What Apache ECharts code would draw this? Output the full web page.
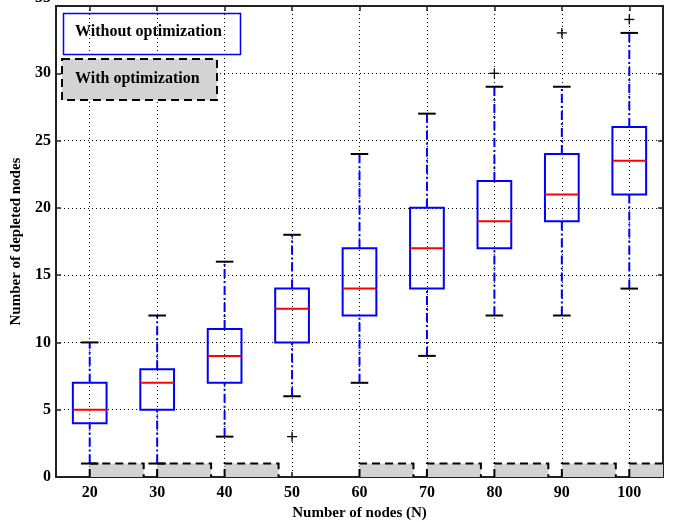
<!DOCTYPE html>
<html>
<head>
<meta charset="utf-8">
<script src="https://cdn.jsdelivr.net/npm/echarts@6/dist/echarts.min.js"></script>
<style>
  html, body { margin: 0; padding: 0; background: #fff; }
  #chart { width: 678px; height: 522px; }
</style>
</head>
<body>
<div id="chart"></div>
<script>
// node counts on the x axis
const nodeCounts = [20, 30, 40, 50, 60, 70, 80, 90, 100];
// "Without optimization" box plot stats
const whiskerLow = [1, 1, 3, 6, 7, 9, 12, 12, 14];
const q1 = [4, 5, 7, 10, 12, 14, 17, 19, 21];
const medians = [5, 7, 9, 12.5, 14, 17, 19, 21, 23.5];
const q3 = [7, 8, 11, 14, 17, 20, 22, 24, 26];
const whiskerHigh = [10, 12, 16, 18, 24, 27, 29, 29, 33];
const outliers = [[50, 3], [80, 30], [90, 33], [100, 34]];
// "With optimization" depleted nodes
const optimizedDepleted = [1, 1, 1, 0, 1, 1, 1, 1, 1];
const xTicks = [20, 30, 40, 50, 60, 70, 80, 90, 100];

const FONT = '"Liberation Serif", "Times New Roman", serif';
const BLUE = '#0000ff';

const boxData = nodeCounts.map((n, i) => [n, whiskerLow[i], q1[i], medians[i], q3[i], whiskerHigh[i]]);
const optData = nodeCounts.map((n, i) => [n, optimizedDepleted[i]]);

function renderBox(params, api) {
  const x = api.value(0);
  const pLow = api.coord([x, api.value(1)]);
  const pQ1 = api.coord([x, api.value(2)]);
  const pMed = api.coord([x, api.value(3)]);
  const pQ3 = api.coord([x, api.value(4)]);
  const pHigh = api.coord([x, api.value(5)]);
  const left = api.coord([x - 2.5, 0])[0];
  const right = api.coord([x + 2.5, 0])[0];
  const capL = api.coord([x - 1.3, 0])[0];
  const capR = api.coord([x + 1.3, 0])[0];
  const cx = pMed[0];
  const whiskerStyle = {stroke: BLUE, lineWidth: 2, lineDash: [9, 3, 2, 3], fill: null};
  const capStyle = {stroke: '#000', lineWidth: 2};
  return {
    type: 'group',
    children: [
      {type: 'line', shape: {x1: cx, y1: pQ3[1], x2: cx, y2: pHigh[1]}, style: whiskerStyle},
      {type: 'line', shape: {x1: cx, y1: pLow[1], x2: cx, y2: pQ1[1]}, style: whiskerStyle},
      {type: 'rect', shape: {x: left, y: pQ3[1], width: right - left, height: pQ1[1] - pQ3[1]},
        style: {stroke: BLUE, lineWidth: 2, fill: null}},
      {type: 'line', shape: {x1: left, y1: pMed[1], x2: right, y2: pMed[1]}, style: {stroke: '#ff0000', lineWidth: 2}},
      {type: 'line', shape: {x1: capL, y1: pHigh[1], x2: capR, y2: pHigh[1]}, style: capStyle},
      {type: 'line', shape: {x1: capL, y1: pLow[1], x2: capR, y2: pLow[1]}, style: capStyle}
    ]
  };
}

function renderOutlier(params, api) {
  const p = api.coord([api.value(0), api.value(1)]);
  const s = 5;
  return {
    type: 'group',
    children: [
      {type: 'line', shape: {x1: p[0] - s, y1: p[1], x2: p[0] + s, y2: p[1]}, style: {stroke: '#000', lineWidth: 1.3}},
      {type: 'line', shape: {x1: p[0], y1: p[1] - s, x2: p[0], y2: p[1] + s}, style: {stroke: '#000', lineWidth: 1.3}}
    ]
  };
}

function renderOpt(params, api) {
  const v = api.value(1);
  if (!v) return null;
  const x = api.value(0);
  const p0 = api.coord([x, 0]);
  const p1 = api.coord([x + 8, v]);
  return {
    type: 'group',
    children: [
      {
        type: 'rect',
        shape: {x: p0[0], y: p1[1], width: p1[0] - p0[0], height: p0[1] - p1[1]},
        style: {fill: 'rgb(211,211,211)', stroke: null}
      },
      {
        type: 'polyline',
        shape: {points: [[p0[0], p0[1]], [p0[0], p1[1]], [p1[0], p1[1]], [p1[0], p0[1]]]},
        style: {fill: null, stroke: '#000', lineWidth: 2, lineDash: [8, 5]}
      }
    ]
  };
}

const chart = echarts.init(document.getElementById('chart'), null, {renderer: 'canvas'});

const gridDot = {show: true, lineStyle: {color: '#000', type: [1, 3], width: 1}};
const axisFrame = {show: true, onZero: false, lineStyle: {color: '#222', width: 2}};

chart.setOption({
  animation: false,
  backgroundColor: '#fff',
  grid: {left: 56, right: 15, top: 6, bottom: 45, outerBoundsMode: 'none', containLabel: false},
  xAxis: [
    {
      type: 'value', min: 15, max: 105,
      axisLine: axisFrame,
      axisTick: {inside: true, length: 5, customValues: xTicks, lineStyle: {color: '#222', width: 1.5}},
      axisLabel: {customValues: xTicks, color: '#000', fontFamily: FONT, fontWeight: 'bold', fontSize: 16, margin: 8},
      splitLine: gridDot,
      name: 'Number of nodes (N)', nameLocation: 'middle', nameGap: 24,
      nameTextStyle: {color: '#000', fontFamily: FONT, fontWeight: 'bold', fontSize: 15}
    },
    {
      type: 'value', min: 15, max: 105, position: 'top',
      axisLine: axisFrame,
      axisTick: {inside: true, length: 5, customValues: xTicks, lineStyle: {color: '#222', width: 1.5}},
      axisLabel: {show: false, customValues: xTicks},
      splitLine: {show: false}
    }
  ],
  yAxis: [
    {
      type: 'value', min: 0, max: 35, interval: 5,
      axisLine: axisFrame,
      axisTick: {inside: true, length: 5, lineStyle: {color: '#222', width: 1.5}},
      axisLabel: {
        color: '#000', fontFamily: FONT, fontWeight: 'bold', fontSize: 16, margin: 5,
        formatter: v => (v === 35 ? '{top|35}' : String(v)),
        rich: {top: {fontFamily: FONT, fontWeight: 'bold', fontSize: 16, color: '#000', padding: [0, 0, 16, 0]}}
      },
      splitLine: gridDot,
      name: 'Number of depleted nodes', nameLocation: 'middle', nameGap: 25,
      nameTextStyle: {color: '#000', fontFamily: FONT, fontWeight: 'bold', fontSize: 15}
    },
    {
      type: 'value', min: 0, max: 35, interval: 5, position: 'right',
      axisLine: axisFrame,
      axisTick: {inside: true, length: 5, lineStyle: {color: '#222', width: 1.5}},
      axisLabel: {show: false},
      splitLine: {show: false}
    }
  ],
  series: [
    {
      name: 'With optimization', type: 'custom', renderItem: renderOpt,
      data: optData, clip: true, z: 2,
      encode: {x: 0, y: 1}
    },
    {
      name: 'Without optimization', type: 'custom', renderItem: renderBox,
      data: boxData, z: 3,
      encode: {x: 0, y: [1, 2, 3, 4, 5]}
    },
    {
      name: 'Outliers', type: 'custom', renderItem: renderOutlier,
      data: outliers, z: 4,
      encode: {x: 0, y: 1}
    }
  ],
  graphic: [
    {
      type: 'rect', left: 61, top: 11, z: 10,
      shape: {width: 177, height: 41},
      style: {fill: null, stroke: BLUE, lineWidth: 1.5}
    },
    {
      type: 'text', left: 75, top: 24, z: 11,
      style: {text: 'Without optimization', fill: '#000', font: 'bold 16px ' + FONT}
    },
    {
      type: 'rect', left: 61, top: 58, z: 10,
      shape: {width: 155, height: 41},
      style: {fill: '#d3d3d3', stroke: '#000', lineWidth: 2, lineDash: [8, 5]}
    },
    {
      type: 'text', left: 75, top: 71, z: 11,
      style: {text: 'With optimization', fill: '#000', font: 'bold 16px ' + FONT}
    }
  ]
});
</script>
</body>
</html>
